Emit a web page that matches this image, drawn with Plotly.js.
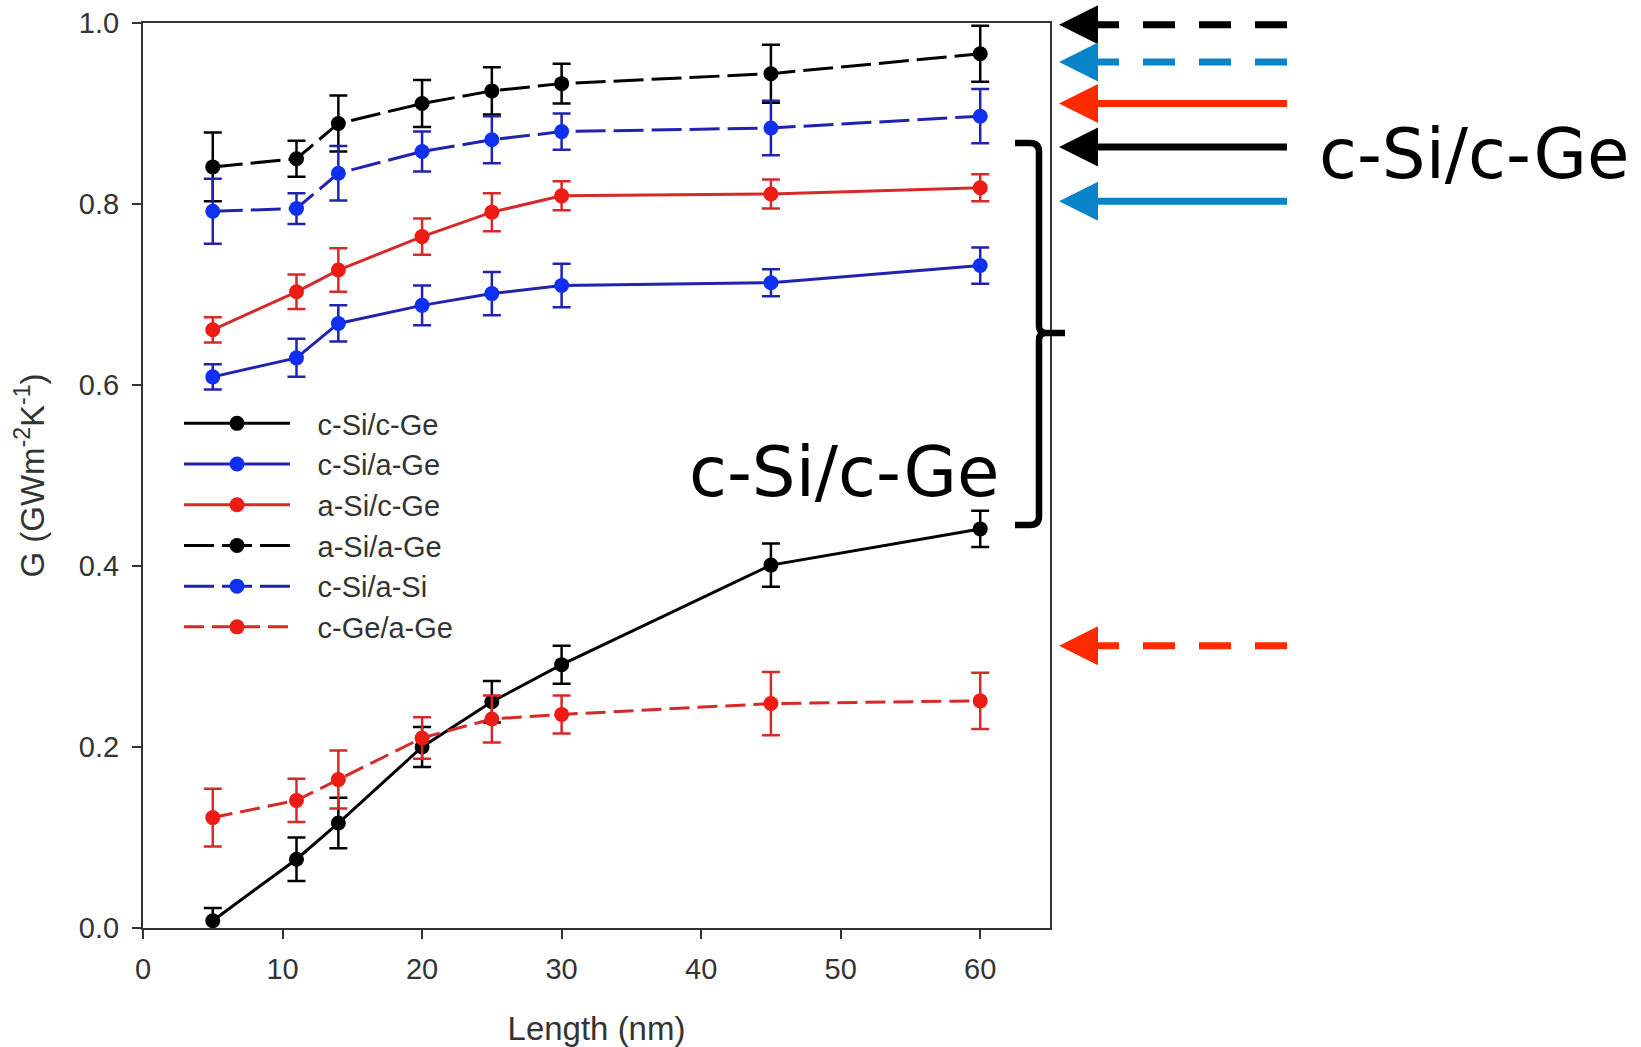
<!DOCTYPE html>
<html><head><meta charset="utf-8">
<script src="https://cdn.plot.ly/plotly-3.0.1.min.js"></script>
<style>html,body{margin:0;padding:0;background:#fff;} #chart{width:1641px;height:1047px;}</style>
</head><body><div id="chart"></div>
<script>
// ---- data ----
const lengths = [5, 11, 14, 20, 25, 30, 45, 60];

const seriesNames = ['c-Si/c-Ge', 'c-Si/a-Ge', 'a-Si/c-Ge', 'a-Si/a-Ge', 'c-Si/a-Si', 'c-Ge/a-Ge'];

const cSi_cGe = [0.008, 0.076, 0.116, 0.200, 0.250, 0.291, 0.401, 0.441];
const cSi_cGe_err = [0.014, 0.024, 0.028, 0.022, 0.023, 0.021, 0.024, 0.020];

const cSi_aGe = [0.609, 0.630, 0.668, 0.688, 0.701, 0.710, 0.713, 0.732];
const cSi_aGe_err = [0.014, 0.021, 0.020, 0.022, 0.024, 0.024, 0.015, 0.020];

const aSi_cGe = [0.661, 0.703, 0.727, 0.764, 0.791, 0.809, 0.811, 0.818];
const aSi_cGe_err = [0.014, 0.019, 0.024, 0.020, 0.021, 0.016, 0.016, 0.015];

const aSi_aGe = [0.841, 0.850, 0.889, 0.911, 0.925, 0.933, 0.944, 0.966];
const aSi_aGe_err = [0.038, 0.020, 0.031, 0.026, 0.026, 0.022, 0.032, 0.031];

const cSi_aSi = [0.792, 0.795, 0.834, 0.858, 0.871, 0.880, 0.884, 0.897];
const cSi_aSi_err = [0.036, 0.017, 0.030, 0.022, 0.026, 0.020, 0.030, 0.030];

const cGe_aGe = [0.122, 0.141, 0.164, 0.210, 0.231, 0.236, 0.248, 0.251];
const cGe_aGe_err = [0.032, 0.024, 0.032, 0.023, 0.026, 0.021, 0.035, 0.031];

const xTicks = [0, 10, 20, 30, 40, 50, 60];
const yTicks = [0, 0.2, 0.4, 0.6, 0.8, 1.0];

// reference levels marked by arrows on the right (G values)
const arrowLevels = [0.998, 0.957, 0.911, 0.863, 0.803, 0.312];
const arrowColors = ['#000000', '#0a84c8', '#ff2a00', '#000000', '#0a84c8', '#ff2a00'];
const arrowDashed = [true, true, false, false, false, true];
const calloutText = 'c-Si/c-Ge';

// ---- geometry ----
const W = 1641, H = 1047, ML = 143, MR = 591, MT = 23, MB = 119;
const plotW = W - ML - MR, plotH = H - MT - MB;
const px = (x) => (x - ML) / plotW;          // pixel x -> paper x
const py = (y) => (H - MB - y) / plotH;      // pixel y -> paper y
const dpy = (d) => d / plotH;                // pixel height -> paper height

const tickFont = {family: 'Liberation Sans, Arial, sans-serif', size: 29, color: '#333333'};
const legendPad = '\u2002\u00a0';

function trace(name, y, err, lineColor, markerColor, dash) {
  return {
    x: lengths, y: y, name: legendPad + name, type: 'scatter', mode: 'lines+markers',
    line: {color: lineColor, width: 3, dash: dash},
    marker: {color: markerColor, size: 15},
    error_y: {type: 'data', array: err, visible: true, color: lineColor, thickness: 2.5, width: 9}
  };
}

const data = [
  trace(seriesNames[0], cSi_cGe, cSi_cGe_err, '#000000', '#000000', 'solid'),
  trace(seriesNames[1], cSi_aGe, cSi_aGe_err, '#2222b0', '#1030f0', 'solid'),
  trace(seriesNames[2], aSi_cGe, aSi_cGe_err, '#d42a2a', '#ee1a14', 'solid'),
  trace(seriesNames[3], aSi_aGe, aSi_aGe_err, '#000000', '#000000', '30px,8px'),
  trace(seriesNames[4], cSi_aSi, cSi_aSi_err, '#2222b0', '#1030f0', '30px,8px'),
  trace(seriesNames[5], cGe_aGe, cGe_aGe_err, '#d42a2a', '#ee1a14', '20px,8px')
];

const annotations = [];
const shapes = [];
const tipX = px(1059), backX = px(1098), tailX = px(1287), headHalf = dpy(19.5);
arrowLevels.forEach((lv, i) => {
  const c = arrowColors[i];
  shapes.push({
    type: 'line', xref: 'paper', yref: 'paper',
    x0: tailX, x1: px(1096), y0: lv, y1: lv,
    line: {color: c, width: 7, dash: arrowDashed[i] ? '32px,24px' : 'solid'}
  });
  shapes.push({
    type: 'path', xref: 'paper', yref: 'paper',
    path: `M${tipX},${lv} L${backX},${lv + headHalf} L${backX},${lv - headHalf} Z`,
    fillcolor: c, line: {color: c, width: 0}
  });
});

// curly bracket
const bx = px(1039), bl = px(1015), bc = px(1030), bn = px(1065), bm = px(1046);
const bracketPath =
  `M${bl},${py(143)} L${bc},${py(143)} Q${bx},${py(143)} ${bx},${py(152)} ` +
  `L${bx},${py(326)} Q${bx},${py(333)} ${bm},${py(333)} L${bn},${py(333)} ` +
  `M${bm},${py(333)} Q${bx},${py(333)} ${bx},${py(340)} L${bx},${py(516)} ` +
  `Q${bx},${py(525)} ${bc},${py(525)} L${bl},${py(525)}`;
shapes.push({type: 'path', xref: 'paper', yref: 'paper', path: bracketPath,
  line: {color: '#000000', width: 6.5}});

const calloutFont = {family: 'DejaVu Sans, sans-serif', size: 69, color: '#000000'};
annotations.push({xref: 'paper', yref: 'paper', x: px(843.5), y: py(472), text: calloutText,
  showarrow: false, font: calloutFont, xanchor: 'center', yanchor: 'middle'});
annotations.push({xref: 'paper', yref: 'paper', x: px(1473.5), y: py(154), text: calloutText,
  showarrow: false, font: calloutFont, xanchor: 'center', yanchor: 'middle'});

const axisCommon = {
  showline: true, linecolor: '#333333', linewidth: 2, mirror: true,
  ticks: 'outside', ticklen: 9, tickwidth: 2, tickcolor: '#333333',
  showgrid: false, zeroline: false, tickfont: tickFont
};

const layout = {
  width: W, height: H,
  margin: {l: ML, r: MR, t: MT, b: MB},
  paper_bgcolor: '#ffffff', plot_bgcolor: '#ffffff',
  showlegend: true,
  legend: {x: px(179), y: py(398), xanchor: 'left', yanchor: 'top',
    bgcolor: 'rgba(0,0,0,0)', borderwidth: 0, itemwidth: 106,
    font: {family: 'Liberation Sans, Arial, sans-serif', size: 29, color: '#333333'}},
  xaxis: Object.assign({}, axisCommon, {
    range: [0, 65], tickvals: xTicks, ticklabelstandoff: 5,
    title: {text: 'Length (nm)', font: {family: 'Liberation Sans, Arial, sans-serif', size: 33, color: '#333333'}, standoff: 33}
  }),
  yaxis: Object.assign({}, axisCommon, {
    range: [0, 1.0], tickvals: yTicks, tickformat: '.1f', ticklabelstandoff: 7,
    title: {text: 'G (GWm<sup>-2</sup>K<sup>-1</sup>)', font: {family: 'Liberation Sans, Arial, sans-serif', size: 33, color: '#333333'}, standoff: 24}
  }),
  annotations: annotations,
  shapes: shapes
};

Plotly.newPlot('chart', data, layout, {displayModeBar: false, staticPlot: true});
</script>
</body></html>
